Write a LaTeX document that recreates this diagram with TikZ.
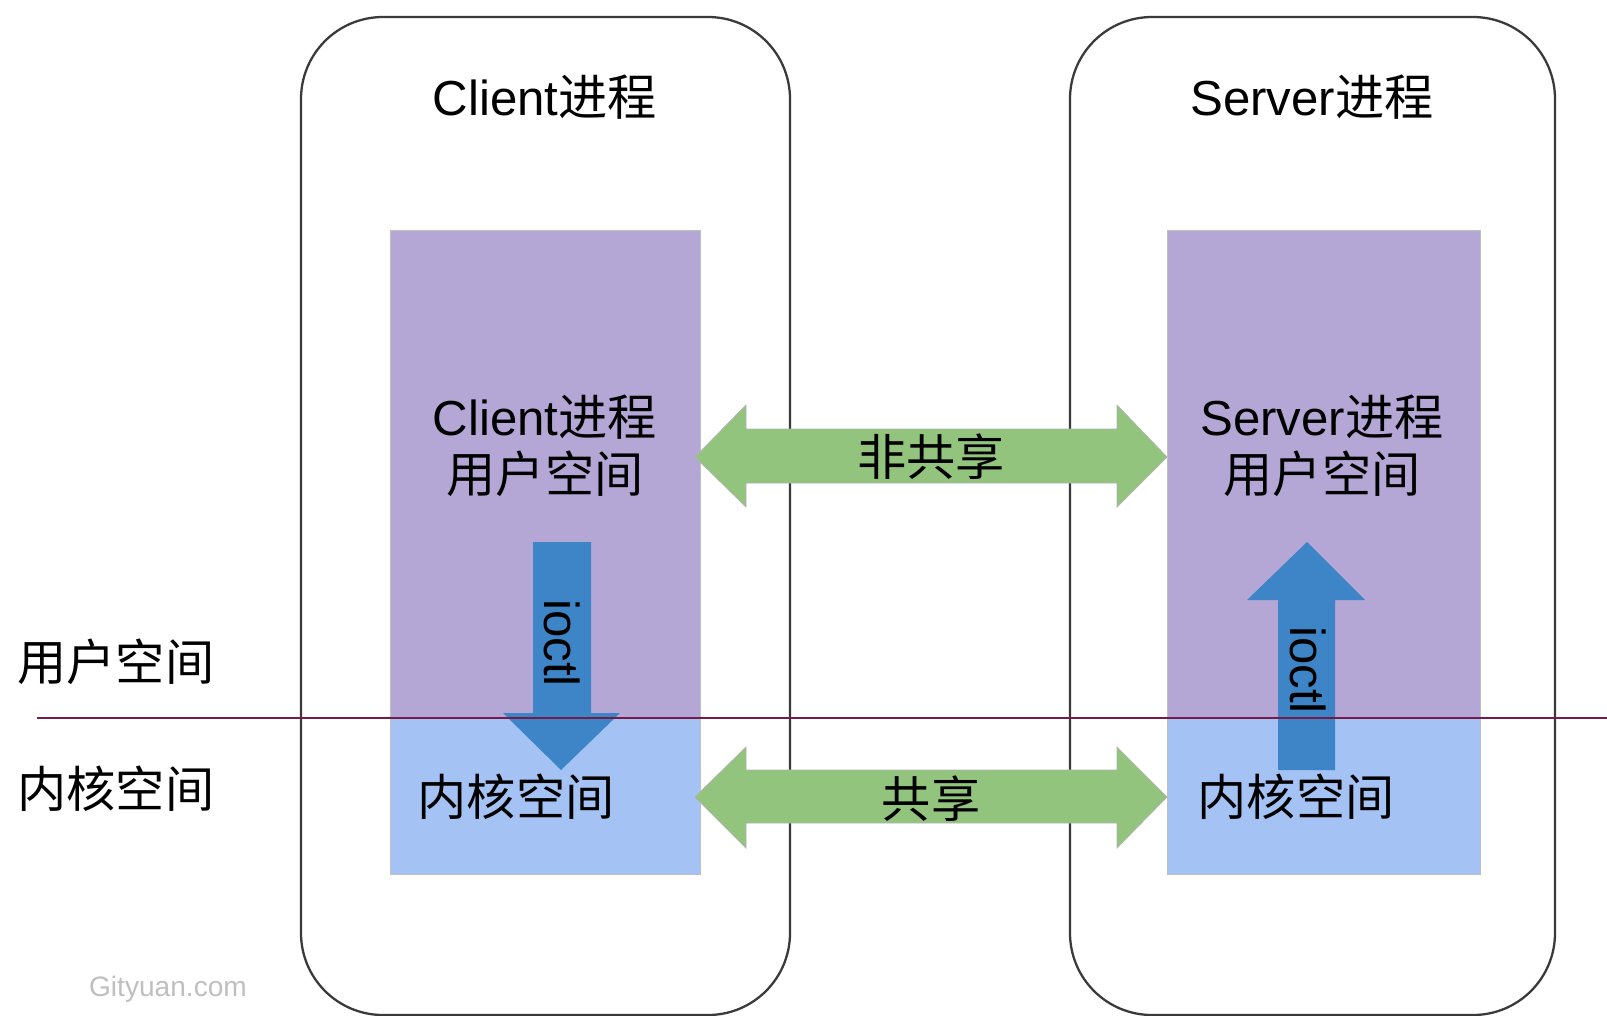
\documentclass[tikz,border=0pt]{standalone}
\usepackage{fontspec}
\setmainfont{Liberation Sans}
\newfontfamily\cjk{Noto Sans CJK SC}
\definecolor{userfill}{HTML}{B4A7D6}
\definecolor{kernfill}{HTML}{A4C2F4}
\definecolor{greenarr}{HTML}{93C47D}
\definecolor{bluearr}{HTML}{3D85C6}
\definecolor{divline}{HTML}{741B47}
\definecolor{procline}{HTML}{3A3A3A}
\begin{document}
\begin{tikzpicture}[x=0.02cm,y=-0.02cm,
  proc/.style={draw=procline,line width=1.3pt,rounded corners=1.64cm},
  userbox/.style={draw=black!25,line width=0.5pt,fill=userfill,minimum width=6.2cm,minimum height=9.76cm,inner sep=0pt},
  kernbox/.style={draw=black!25,line width=0.5pt,fill=kernfill,minimum width=6.2cm,minimum height=3.12cm,inner sep=0pt},
  garrow/.style={fill=greenarr,draw=black!30,line width=0.4pt},
  barrow/.style={fill=bluearr},
  lbl/.style={font=\fontsize{28}{32.4}\selectfont,inner sep=0pt,align=center},
  wm/.style={font=\fontsize{16}{18}\selectfont,text=black!25,inner sep=0pt}]
\useasboundingbox (0,0) rectangle (1607,1015);
% process frames
\draw[proc] (301,17) rectangle (790,1015);
\draw[proc] (1070,17) rectangle (1555,1015);
% space boxes
\node[userbox] (cuser) at (545,474) {};
\node[kernbox] (ckern) at (545,796) {};
\node[userbox,minimum width=6.26cm] (suser) at (1323.5,474) {};
\node[kernbox,minimum width=6.26cm] (skern) at (1323.5,796) {};
% green double arrows
\draw[garrow] (695,457) -- (746,405) -- (746,429) -- (1117,429) -- (1117,405) -- (1167,457)
  -- (1117,507) -- (1117,483) -- (746,483) -- (746,507) -- cycle;
\draw[garrow] (695,797) -- (746,747) -- (746,770) -- (1117,770) -- (1117,747) -- (1167,797)
  -- (1117,848) -- (1117,823) -- (746,823) -- (746,848) -- cycle;
\node[lbl] (nonshared) at (931,457) {\cjk 非共享};
\node[lbl] (shared) at (931,799) {\cjk 共享};
% blue ioctl arrows
\fill[barrow] (533,542) -- (591,542) -- (591,713) -- (620,713) -- (561,770) -- (503,713) -- (533,713) -- cycle;
\fill[barrow] (1278,770) -- (1335,770) -- (1335,600) -- (1365,600) -- (1307,542) -- (1247,600) -- (1278,600) -- cycle;
\node[lbl,rotate=-90] (cioctl) at (562,643) {ioctl};
\node[lbl,rotate=-90] (sioctl) at (1308,670) {ioctl};
% divider
\coordinate (divL) at (37,718);
\coordinate (divR) at (1607,718);
\draw[divline,line width=1.1pt] (divL) -- (divR);
% titles and labels
\node[lbl] (ctitle) at (545,97) {Client{\cjk 进程}};
\node[lbl] (stitle) at (1312,97) {Server{\cjk 进程}};
\node[lbl] (cuserlbl) at (545,446) {Client{\cjk 进程}\\{\cjk 用户空间}};
\node[lbl] (suserlbl) at (1322,446) {Server{\cjk 进程}\\{\cjk 用户空间}};
\node[lbl] (ckernlbl) at (516,797) {\cjk 内核空间};
\node[lbl] (skernlbl) at (1296,797) {\cjk 内核空间};
\node[lbl] (userlbl) at (116,662) {\cjk 用户空间};
\node[lbl] (kernlbl) at (116,789) {\cjk 内核空间};
\node[wm] (watermark) at (168,989) {Gityuan.com};
\end{tikzpicture}
\end{document}
